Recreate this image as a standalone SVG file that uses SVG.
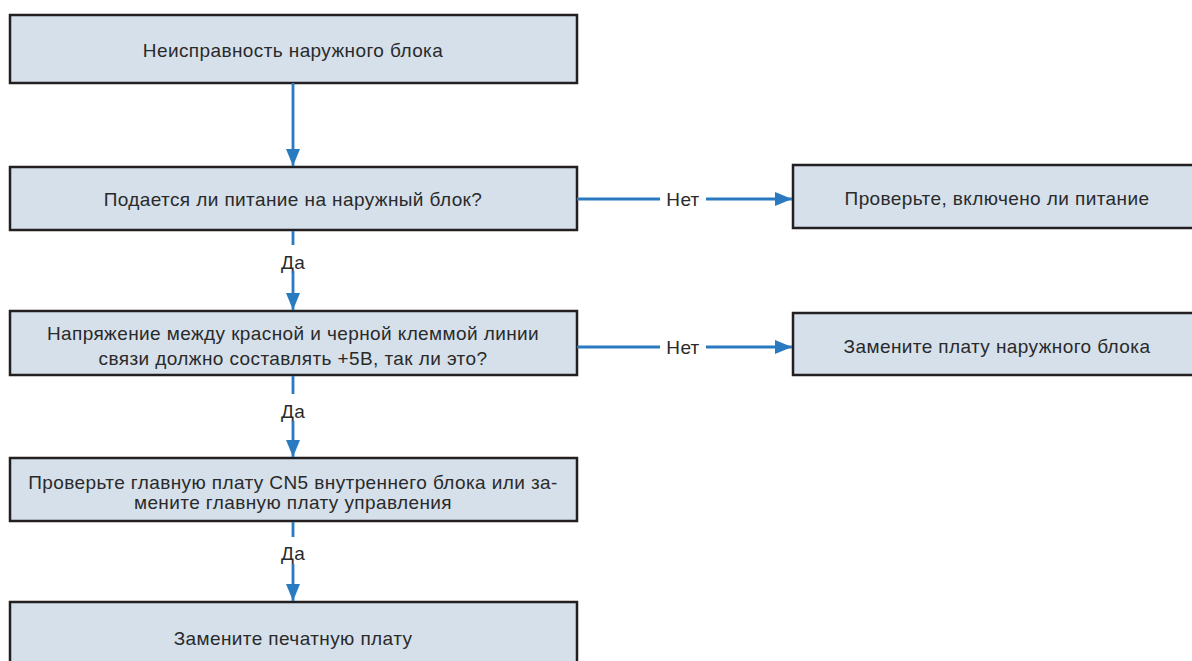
<svg xmlns="http://www.w3.org/2000/svg" width="1192" height="661" viewBox="0 0 1192 661">
<defs>
<style>
.box{fill:#d5e0eb;stroke:#231f20;stroke-width:2.5}
.t{font-family:"Liberation Sans",Arial,sans-serif;font-size:19px;letter-spacing:0.4px;fill:#2a2a2a;text-anchor:middle}
.c{stroke:#2a7ac2;stroke-width:2.8;fill:none}
.lbl{font-family:"Liberation Sans",Arial,sans-serif;font-size:19px;letter-spacing:0.3px;fill:#2a2a2a;text-anchor:middle}
</style>
<marker id="ah" markerWidth="18" markerHeight="14" refX="17" refY="7" orient="auto" markerUnits="userSpaceOnUse">
<path d="M0,0 L17,7 L0,14 Z" fill="#2a7ac2"/>
</marker>
</defs>
<rect width="1192" height="661" fill="#ffffff"/>
<g id="n1"><rect class="box" x="10" y="15" width="567" height="68"/><text class="t" x="293" y="57">Неисправность наружного блока</text></g>
<g id="n2"><rect class="box" x="10" y="167" width="567" height="63"/><text class="t" x="293" y="206">Подается ли питание на наружный блок?</text></g>
<g id="n3"><rect class="box" x="10" y="311" width="567" height="64"/><text class="t" x="293" y="340">Напряжение между красной и черной клеммой линии</text><text class="t" x="293" y="365">связи должно составлять +5В, так ли это?</text></g>
<g id="n4"><rect class="box" x="10" y="458" width="567" height="63"/><text class="t" x="293" y="489">Проверьте главную плату CN5 внутреннего блока или за-</text><text class="t" x="293" y="509">мените главную плату управления</text></g>
<g id="n5"><rect class="box" x="10" y="602" width="567" height="70"/><text class="t" x="293" y="645">Замените печатную плату</text></g>
<g id="n6"><rect class="box" x="793" y="165" width="410" height="63"/><text class="t" x="997" y="205">Проверьте, включено ли питание</text></g>
<g id="n7"><rect class="box" x="793" y="313" width="410" height="62"/><text class="t" x="997" y="353">Замените плату наружного блока</text></g>
<g id="connectors">
<line class="c" x1="293" y1="83" x2="293" y2="166" marker-end="url(#ah)"/>
<line class="c" x1="293" y1="231" x2="293" y2="245"/>
<text class="lbl" x="293" y="269">Да</text>
<line class="c" x1="293" y1="271" x2="293" y2="310" marker-end="url(#ah)"/>
<line class="c" x1="293" y1="376" x2="293" y2="394"/>
<text class="lbl" x="293" y="418">Да</text>
<line class="c" x1="293" y1="421" x2="293" y2="457" marker-end="url(#ah)"/>
<line class="c" x1="293" y1="522" x2="293" y2="537"/>
<text class="lbl" x="293" y="560">Да</text>
<line class="c" x1="293" y1="564" x2="293" y2="601" marker-end="url(#ah)"/>
<line class="c" x1="577" y1="199" x2="660" y2="199"/>
<text class="lbl" x="683" y="206">Нет</text>
<line class="c" x1="706" y1="199" x2="792" y2="199" marker-end="url(#ah)"/>
<line class="c" x1="577" y1="347" x2="660" y2="347"/>
<text class="lbl" x="683" y="354">Нет</text>
<line class="c" x1="706" y1="347" x2="792" y2="347" marker-end="url(#ah)"/>
</g>
</svg>
